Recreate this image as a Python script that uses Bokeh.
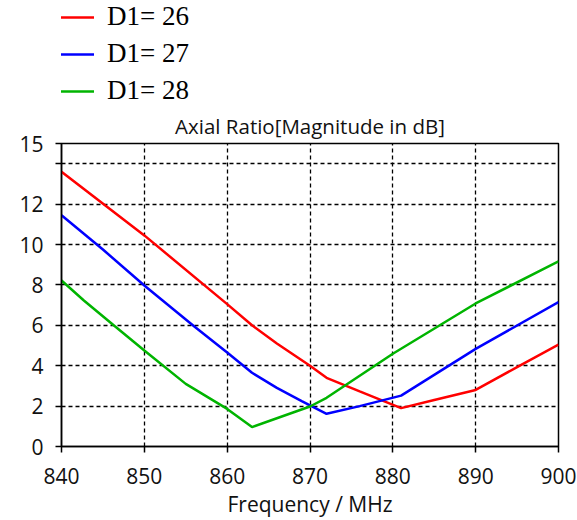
from bokeh.plotting import figure
from bokeh.models import FixedTicker, Legend, LegendItem, Range1d
from bokeh.layouts import column
from bokeh.embed import file_html
from bokeh.resources import INLINE

# ---- data ----
freq_d26 = [840, 850, 860, 863, 866, 870, 872, 876, 881, 885, 890, 895, 900]
ar_d26 = [13.6, 10.45, 7.05, 6.0, 5.1, 4.0, 3.4, 2.73, 1.9, 2.3, 2.8, 3.93, 5.05]

freq_d27 = [840, 845, 850, 856, 860, 863, 866, 869, 872, 876, 881, 890, 900]
ar_d27 = [11.45, 9.75, 7.97, 5.95, 4.65, 3.65, 2.9, 2.25, 1.62, 2.0, 2.52, 4.83, 7.15]

freq_d28 = [840, 842.7, 846.3, 850, 855, 860, 863, 866, 870, 872, 880, 890, 900]
ar_d28 = [8.22, 7.23, 6.0, 4.75, 3.1, 1.86, 0.96, 1.4, 1.98, 2.41, 4.59, 7.08, 9.17]

series_labels = ["D1= 26", "D1= 27", "D1= 28"]
series_colors = ["#ff0000", "#0000ff", "#00b400"]

x_ticks = [840, 850, 860, 870, 880, 890, 900]
y_ticks = [0, 2, 4, 6, 8, 10, 12, 14, 15]
y_tick_labels = {14: ""}

title_text = "Axial Ratio[Magnitude in dB]"
x_label = "Frequency / MHz"

SANS = "Open Sans"
SERIF = "Liberation Serif"
W = 577
LEG_H = 105

# ---- legend strip on top ----
leg = figure(width=W, height=LEG_H, x_range=(0, 1), y_range=(0, 1),
             toolbar_location=None, output_backend="svg",
             x_axis_location=None, y_axis_location=None,
             min_border_left=0, min_border_right=0,
             min_border_top=0, min_border_bottom=0,
             outline_line_color=None)
for g in leg.grid:
    g.visible = False
items = []
for lab, col in zip(series_labels, series_colors):
    # legend-only renderers (kept outside the visible range)
    r = leg.line(x=[5, 6], y=[5, 6], line_color=col, line_width=2.5)
    items.append(LegendItem(label=lab, renderers=[r]))
legend = Legend(items=items, location=(-30, -1), margin=0, padding=0,
                spacing=6, glyph_width=63, glyph_height=30, label_height=30,
                label_standoff=13, label_text_font=SERIF,
                label_text_font_size="27px", label_text_color="#000000",
                border_line_color=None, background_fill_alpha=0)
leg.add_layout(legend)

# ---- main chart ----
p = figure(width=W, height=520 - LEG_H, x_range=Range1d(840, 900), y_range=Range1d(0, 15),
           toolbar_location=None, output_backend="svg",
           min_border_left=61, min_border_right=19,
           min_border_top=143 - LEG_H, min_border_bottom=74,
           outline_line_color="#000000", outline_line_width=1.5)
p.title.text = title_text
p.title.text_font = SANS
p.title.text_font_size = "20.5px"
p.title.text_font_style = "normal"
p.title.text_color = "#111111"
p.title.align = "center"
p.title.standoff = 7

p.line(freq_d26, ar_d26, line_color=series_colors[0], line_width=2.5)
p.line(freq_d27, ar_d27, line_color=series_colors[1], line_width=2.5)
p.line(freq_d28, ar_d28, line_color=series_colors[2], line_width=2.5)

p.xaxis.ticker = FixedTicker(ticks=x_ticks)
p.yaxis.ticker = FixedTicker(ticks=y_ticks)
p.yaxis.major_label_overrides = y_tick_labels
p.xaxis.axis_label = x_label

for ax in (p.xaxis, p.yaxis):
    ax.axis_line_color = "#000000"
    ax.axis_line_width = 1.5
    ax.major_tick_line_color = "#000000"
    ax.major_tick_line_width = 1.5
    ax.major_tick_out = 6
    ax.major_tick_in = 0
    ax.minor_tick_line_color = None
    ax.major_label_text_font = SANS
    ax.major_label_text_font_size = "21px"
    ax.major_label_text_color = "#111111"
p.xaxis.major_label_standoff = 15
p.yaxis.major_label_standoff = 12
p.xaxis.axis_label_text_font = SANS
p.xaxis.axis_label_text_font_size = "21px"
p.xaxis.axis_label_text_font_style = "normal"
p.xaxis.axis_label_text_color = "#111111"
p.xaxis.axis_label_standoff = 3

for g in (p.xgrid, p.ygrid):
    g.grid_line_color = "#000000"
    g.grid_line_width = 1.3
    g.grid_line_dash = "4 3"
p.xgrid.ticker = FixedTicker(ticks=x_ticks)
p.ygrid.ticker = FixedTicker(ticks=y_ticks)

layout = column(leg, p, spacing=0)
open("out.html", "w").write(file_html(layout, INLINE))
